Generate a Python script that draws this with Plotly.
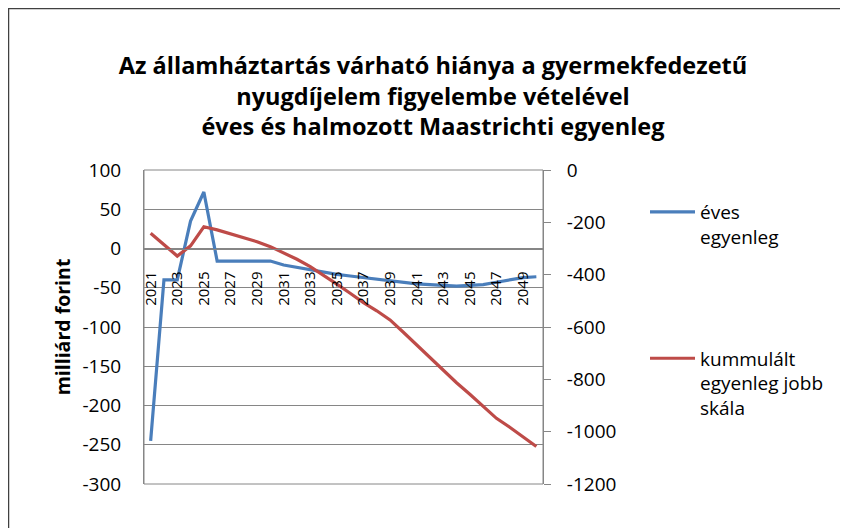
import plotly.graph_objects as go

years = list(range(2021, 2051))
eves = [-245, -40, -40, 35, 72, -16, -16, -16, -16, -16, -21, -24, -28, -31, -33,
        -35, -37, -39, -41, -44, -45, -46, -47, -48, -47, -46, -43, -40, -37, -36]
kumm = [-242, -287, -329, -290, -217, -229, -244, -261, -274, -293, -316, -341, -369, -401, -436,
        -471, -507, -538, -573, -620, -669, -716, -764, -813, -857, -902, -949, -983, -1019, -1057]
xticks = list(range(2021, 2050, 2))
y1_ticks = [100, 50, 0, -50, -100, -150, -200, -250, -300]
y1_text = ["100", "50", "0", "-50", "-100", "-150", "-200", "-250", "-300"]
y2_ticks = [0, -200, -400, -600, -800, -1000, -1200]
y2_text = ["0", "-200", "-400", "-600", "-800", "-1000", "-1200"]
name1 = "éves<br>egyenleg"
name2 = "kummulált<br>egyenleg jobb<br>skála"
title = ("Az államháztartás várható hiánya a gyermekfedezetű<br>"
         "nyugdíjelem figyelembe vételével<br>"
         "éves és halmozott Maastrichti egyenleg")

FONT = "Open Sans"
W, H = 848, 528
OFF = 8  # page body offset
L, R, T, B = 144, 543, 170, 484  # plot area in screen px

fig = go.Figure()
fig.add_trace(go.Scatter(x=years, y=eves, mode="lines", name=name1, legendgroup="a",
                         line=dict(color="#4A7EBB", width=3.2)))
fig.add_trace(go.Scatter(x=years, y=kumm, mode="lines", name=name2, legendgroup="b",
                         yaxis="y2", line=dict(color="#BE4B48", width=3.2)))

pw, ph = R - L, B - T
def px(x):
    return (x - L) / pw
def py(y):
    return (B - y) / ph

fig.update_layout(
    width=W, height=H,
    margin=dict(l=L - OFF, r=W + OFF - R, t=T - OFF, b=H + OFF - B),
    paper_bgcolor="white", plot_bgcolor="white",
    font=dict(family=FONT, size=19, color="black"),
    title=dict(text=title, x=(433 - OFF) / W, xanchor="center", y=1 - 66 / H, yanchor="top",
               font=dict(family=FONT, size=23.5, color="black", weight="bold")),
    showlegend=True,
    legend=dict(x=px(645), y=py(193), xanchor="left", yanchor="top", itemwidth=45,
                font=dict(family=FONT, size=19), tracegroupgap=94, valign="top",
                bgcolor="rgba(0,0,0,0)"),
    xaxis=dict(range=[2020.5, 2050.5], tickvals=xticks, ticktext=[str(v) for v in xticks],
               tickangle=-90, anchor="free", position=0.75, showgrid=False,
               showline=True, linecolor="#868686", linewidth=1, ticks="",
               ticklabelstandoff=16, tickfont=dict(family=FONT, size=15), zeroline=False),
    yaxis=dict(range=[-300, 100], tickvals=y1_ticks, ticktext=y1_text,
               showgrid=True, gridcolor="#868686", gridwidth=1,
               showline=True, linecolor="#868686", linewidth=1, ticks="", zeroline=False,
               ticklabelstandoff=18, tickfont=dict(family=FONT, size=19),
               title=dict(text="<b>milliárd forint</b>", standoff=6,
                          font=dict(family=FONT, size=19.5))),
    yaxis2=dict(range=[-1200, 0], tickvals=y2_ticks, ticktext=y2_text,
                overlaying="y", side="right", showgrid=False,
                showline=True, linecolor="#868686", linewidth=1, ticks="outside",
                ticklen=7, tickcolor="#868686", zeroline=False, ticklabelstandoff=12,
                tickfont=dict(family=FONT, size=19)),
)

# plot-area border and outer chart frame
fig.add_shape(type="rect", xref="paper", yref="paper", x0=0, x1=1, y0=0, y1=1,
              line=dict(color="#868686", width=1), layer="below")
fig.add_shape(type="rect", xref="paper", yref="paper", x0=px(8.5), x1=px(870), y0=py(560), y1=py(8.5),
              line=dict(color="#404040", width=1.5))

fig.write_html("out.html")
